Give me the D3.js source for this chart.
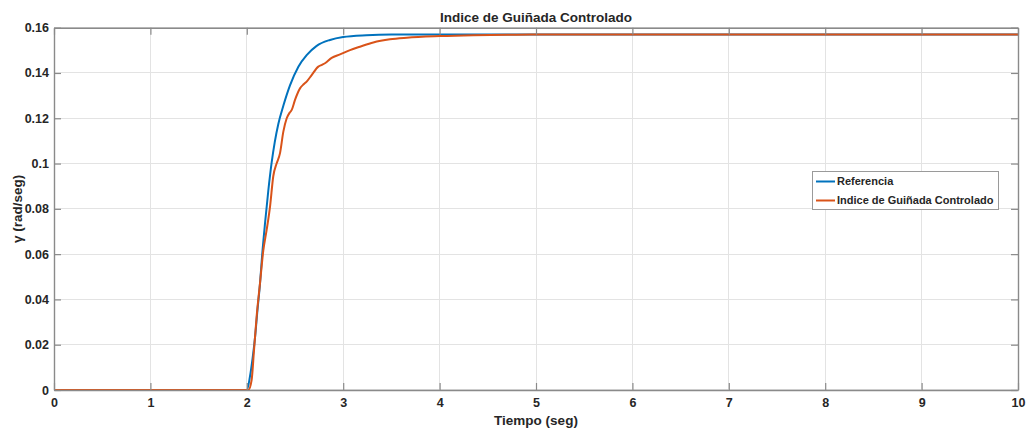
<!DOCTYPE html>
<html>
<head>
<meta charset="utf-8">
<script src="https://cdn.jsdelivr.net/npm/d3@7"></script>
<style>
  html, body { margin: 0; padding: 0; background: #fff; }
  svg { display: block; }
  text { font-family: "Liberation Sans", Arial, Helvetica, sans-serif; font-weight: bold; fill: #262626; }
</style>
</head>
<body>
<svg id="chart" width="1029" height="432"></svg>
<script>
// Referencia (setpoint filtered) — time [s] and yaw rate [rad/s]
const tRef = [0, 2.0, 2.033, 2.06, 2.085, 2.11, 2.137, 2.16, 2.19, 2.223, 2.258, 2.29, 2.327, 2.379,
  2.448, 2.535, 2.621, 2.725, 2.863, 3.0, 3.24, 3.5, 4.0, 10];
const yRef = [0, 0, 0.006, 0.014, 0.023, 0.035, 0.047, 0.060, 0.074, 0.088, 0.1005, 0.1095, 0.1175, 0.1255,
  0.1345, 0.1428, 0.1479, 0.152, 0.1546, 0.1559, 0.1567, 0.157, 0.157, 0.157];

// Indice de Guiñada Controlado — closed-loop response
const tCtrl = [0, 2.016, 2.05, 2.075, 2.102, 2.137, 2.171, 2.206, 2.241, 2.275, 2.31, 2.344, 2.379, 2.414,
  2.445, 2.466, 2.5, 2.552, 2.59, 2.621, 2.673, 2.742, 2.78, 2.811, 2.88, 2.967, 3.071, 3.174, 3.312,
  3.485, 3.659, 4.004, 4.35, 4.8, 5.2, 10];
const yCtrl = [0, 0, 0.0044, 0.0177, 0.0324, 0.0472, 0.0615, 0.0707, 0.081, 0.0945, 0.1001, 0.1045, 0.1141, 0.12,
  0.1225, 0.1237, 0.1281, 0.1332, 0.135, 0.1362, 0.1391, 0.1428, 0.1436, 0.1443, 0.1467, 0.1482, 0.1501, 0.1516, 0.1535,
  0.1549, 0.1556, 0.1563, 0.1567, 0.1569, 0.157, 0.157];

const xTicks = [0, 1, 2, 3, 4, 5, 6, 7, 8, 9, 10];
const yTicks = [0, 0.02, 0.04, 0.06, 0.08, 0.1, 0.12, 0.14, 0.16];
const yTickLabels = ["0", "0.02", "0.04", "0.06", "0.08", "0.1", "0.12", "0.14", "0.16"];

const seriesNames = ["Referencia", "Indice de Guiñada Controlado"];
const seriesColors = ["#0072BD", "#D95319"];

const titleText = "Indice de Guiñada Controlado";
const xLabelText = "Tiempo (seg)";
const yLabelText = "γ (rad/seg)";

const margin = { left: 54, right: 11, top: 27.7, bottom: 42 };
const W = 1029, H = 432;
const iw = W - margin.left - margin.right;
const ih = H - margin.top - margin.bottom;

const svg = d3.select("#chart");
const g = svg.append("g").attr("transform", `translate(${margin.left},${margin.top})`);

const x = d3.scaleLinear().domain([0, 10]).range([0, iw]);
const y = d3.scaleLinear().domain([0, 0.16]).range([ih, 0]);

// grid
g.append("g").selectAll("line.gx").data(xTicks).join("line")
  .attr("x1", d => x(d)).attr("x2", d => x(d)).attr("y1", 0).attr("y2", ih)
  .attr("stroke", "#e3e3e3").attr("stroke-width", 1).attr("shape-rendering", "crispEdges");
g.append("g").selectAll("line.gy").data(yTicks).join("line")
  .attr("y1", d => y(d)).attr("y2", d => y(d)).attr("x1", 0).attr("x2", iw)
  .attr("stroke", "#e3e3e3").attr("stroke-width", 1).attr("shape-rendering", "crispEdges");

// series
const line = (ts, ys) => d3.line()
  .x((d, i) => x(ts[i])).y((d, i) => y(ys[i]))
  .curve(d3.curveMonotoneX)(ys);

g.append("path").attr("d", line(tRef, yRef))
  .attr("fill", "none").attr("stroke", seriesColors[0]).attr("stroke-width", 2);
g.append("path").attr("d", line(tCtrl, yCtrl))
  .attr("fill", "none").attr("stroke", seriesColors[1]).attr("stroke-width", 2);

// axes (ticks pointing inward, box on all sides)
const axisColor = "#8a8a8a";
const tickLen = 7;
function styleAxis(sel) {
  sel.select(".domain").attr("stroke", axisColor).attr("stroke-width", 1.4);
  sel.selectAll(".tick line").attr("stroke", axisColor).attr("stroke-width", 1.2);
  sel.selectAll("text").attr("font-size", 12.5).attr("fill", "#262626")
    .attr("font-family", '"Liberation Sans", Arial, sans-serif').attr("font-weight", "bold");
}

g.append("g").attr("transform", `translate(0,${ih})`)
  .call(d3.axisBottom(x).tickValues(xTicks).tickFormat(d3.format("d"))
    .tickSizeInner(-tickLen).tickSizeOuter(0).tickPadding(8))
  .call(styleAxis);
g.append("g")
  .call(d3.axisLeft(y).tickValues(yTicks).tickFormat((d, i) => yTickLabels[i])
    .tickSizeInner(-tickLen).tickSizeOuter(0).tickPadding(5))
  .call(styleAxis);
g.append("g")
  .call(d3.axisTop(x).tickValues(xTicks).tickFormat("")
    .tickSizeInner(-tickLen).tickSizeOuter(0))
  .call(styleAxis);
g.append("g").attr("transform", `translate(${iw},0)`)
  .call(d3.axisRight(y).tickValues(yTicks).tickFormat("")
    .tickSizeInner(-tickLen).tickSizeOuter(0))
  .call(styleAxis);

// title and axis labels
svg.append("text").attr("x", margin.left + iw / 2).attr("y", 21.5)
  .attr("text-anchor", "middle").attr("font-size", 13.5).text(titleText);
svg.append("text").attr("x", margin.left + iw / 2).attr("y", 425)
  .attr("text-anchor", "middle").attr("font-size", 13.5).text(xLabelText);
svg.append("text")
  .attr("transform", `translate(22,${margin.top + ih / 2}) rotate(-90)`)
  .attr("text-anchor", "middle").attr("font-size", 13.5).text(yLabelText);

// legend
const lg = svg.append("g").attr("transform", "translate(812,171)");
lg.append("rect").attr("x", 0.5).attr("y", 0.5).attr("width", 186).attr("height", 38)
  .attr("fill", "#fff").attr("stroke", "#9a9a9a").attr("stroke-width", 1);
seriesNames.forEach((name, i) => {
  const cy = 10.5 + i * 19;
  lg.append("line").attr("x1", 4).attr("x2", 23).attr("y1", cy).attr("y2", cy)
    .attr("stroke", seriesColors[i]).attr("stroke-width", 2);
  lg.append("text").attr("x", 25).attr("y", cy).attr("dy", "0.35em")
    .attr("font-size", 11).text(name);
});
</script>
</body>
</html>
